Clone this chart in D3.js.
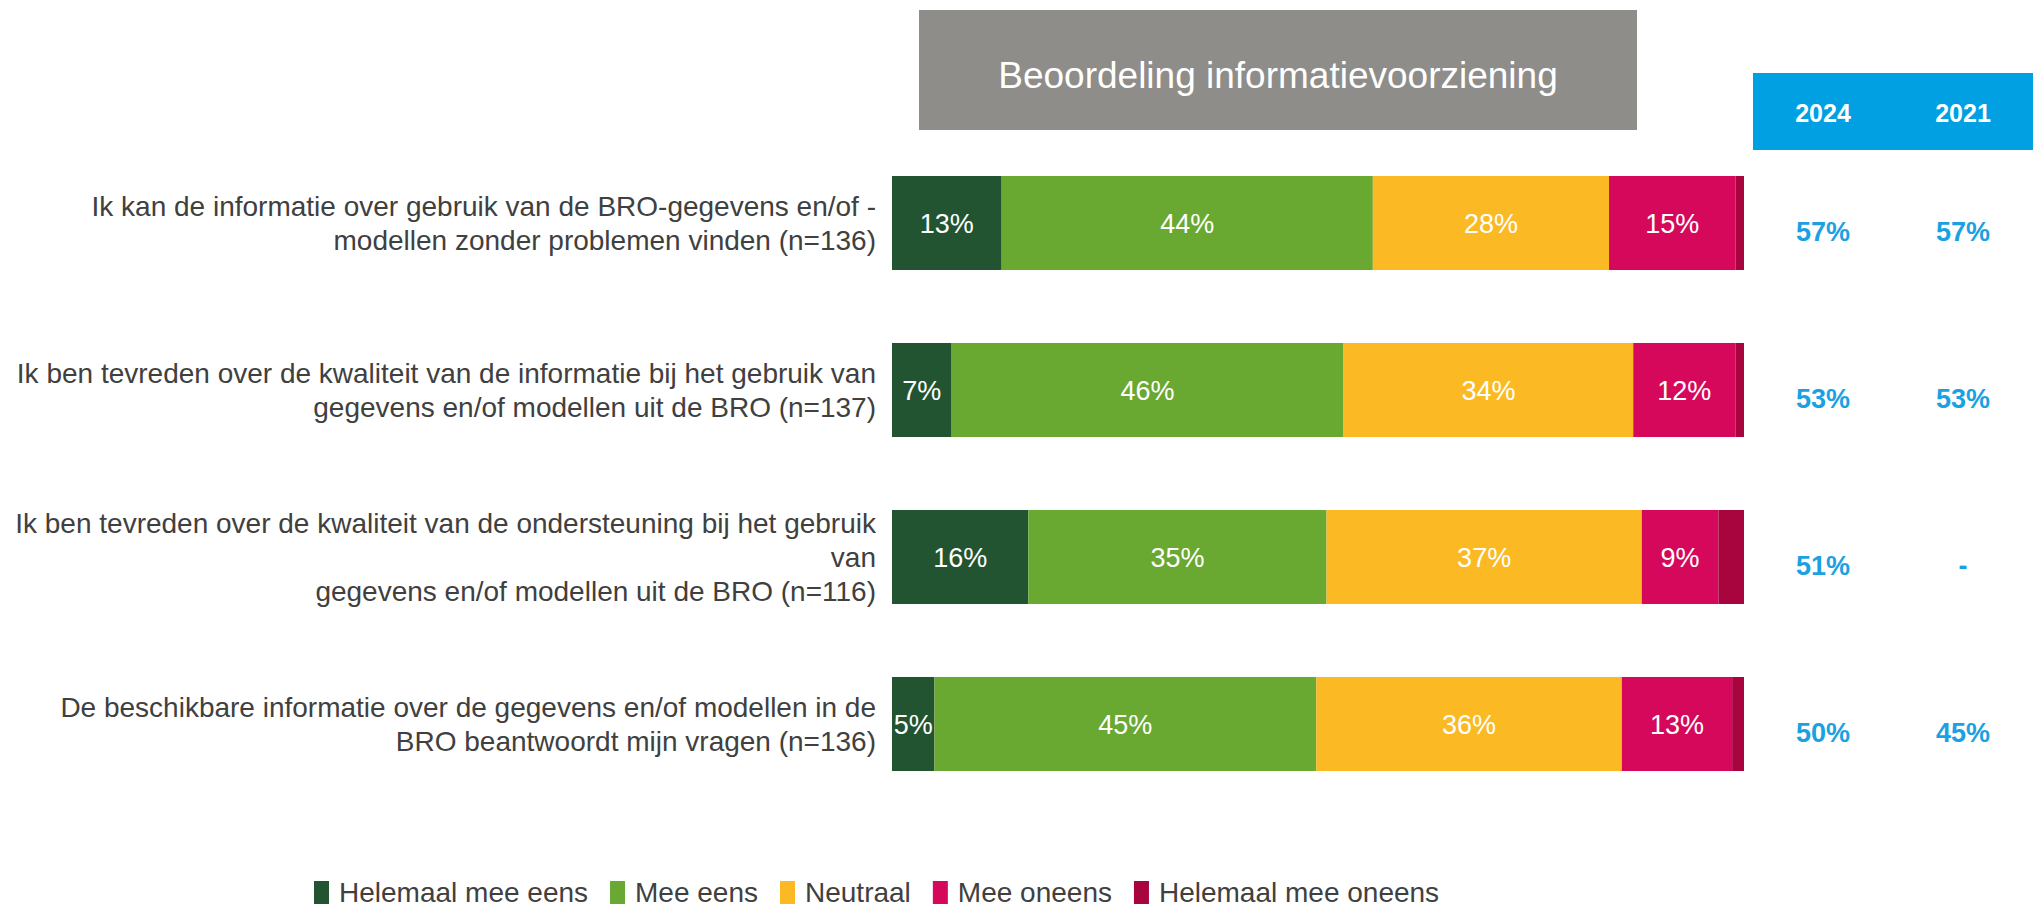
<!DOCTYPE html>
<html lang="nl">

<head>
    <script src="https://d3js.org/d3.v7.min.js"></script>
    <style>
        body {
            margin: 0;
            background: #fff;
            font-family: "Liberation Sans", Arial, sans-serif;
        }
    </style>
</head>

<body>
    <div id="chart"></div>
    <script>
        // data
        var categories = [
            ["Ik kan de informatie over gebruik van de BRO-gegevens en/of -", "modellen zonder problemen vinden (n=136)"],
            ["Ik ben tevreden over de kwaliteit van de informatie bij het gebruik van", "gegevens en/of modellen uit de BRO (n=137)"],
            ["Ik ben tevreden over de kwaliteit van de ondersteuning bij het gebruik", "van", "gegevens en/of modellen uit de BRO (n=116)"],
            ["De beschikbare informatie over de gegevens en/of modellen in de", "BRO beantwoordt mijn vragen (n=136)"]
        ];
        var answers = ["Helemaal mee eens", "Mee eens", "Neutraal", "Mee oneens", "Helemaal mee oneens"];
        var helemaalEens = [13, 7, 16, 5];
        var meeEens = [44, 46, 35, 45];
        var neutraal = [28, 34, 37, 36];
        var meeOneens = [15, 12, 9, 13];
        var helemaalOneens = [1, 1, 3, 1.4];
        var years = ["2024", "2021"];
        var eens2024 = [57, 53, 51, 50];
        var eens2021 = [57, 53, null, 45];
        var colors = ["#235431", "#69A831", "#FBBA24", "#D6085C", "#A8053F"];

        var W = 2033, H = 908;
        var svg = d3.select("#chart").append("svg")
            .attr("width", W)
            .attr("height", H);

        // build rows for the stack
        var series = [helemaalEens, meeEens, neutraal, meeOneens, helemaalOneens];
        var rows = categories.map(function(c, i) {
            var r = { id: i };
            answers.forEach(function(a, k) { r[a] = series[k][i]; });
            return r;
        });
        var stacked = d3.stack().keys(answers).offset(d3.stackOffsetExpand)(rows);

        var x = d3.scaleLinear().domain([0, 1]).range([892, 1744]);
        var y = d3.scaleBand()
            .domain(rows.map(function(d) { return d.id; }))
            .range([139.5, 807.5])
            .paddingInner(0.437)
            .paddingOuter(0.2185);
        var color = d3.scaleOrdinal().domain(answers).range(colors);

        // title box
        svg.append("rect")
            .attr("x", 919).attr("y", 10)
            .attr("width", 718).attr("height", 120)
            .attr("fill", "#8E8D8A");
        svg.append("text")
            .attr("x", 1278).attr("y", 88)
            .attr("text-anchor", "middle")
            .attr("fill", "#fff")
            .style("font-size", "37px")
            .text("Beoordeling informatievoorziening");

        // stacked bars
        var layer = svg.append("g").selectAll("g")
            .data(stacked)
            .enter().append("g")
            .attr("fill", function(d) { return color(d.key); });

        layer.selectAll("rect")
            .data(function(d) { return d; })
            .enter().append("rect")
            .attr("x", function(d) { return x(d[0]); })
            .attr("y", function(d) { return y(d.data.id); })
            .attr("width", function(d) { return x(d[1]) - x(d[0]); })
            .attr("height", y.bandwidth());

        // percentage labels (last answer has none)
        layer.filter(function(d) { return d.key != answers[4]; })
            .selectAll("text")
            .data(function(d) { return d.map(function(p) { return { p: p, key: d.key }; }); })
            .enter().append("text")
            .attr("x", function(d) { return (x(d.p[0]) + x(d.p[1])) / 2; })
            .attr("y", function(d) { return y(d.p.data.id) + y.bandwidth() / 2 + 10; })
            .attr("text-anchor", "middle")
            .attr("fill", "#fff")
            .style("font-size", "27px")
            .text(function(d) { return Math.round(d.p.data[d.key]) + "%"; });

        // category labels
        var lineH = 34;
        var cat = svg.append("g").selectAll("text")
            .data(rows)
            .enter().append("text")
            .attr("text-anchor", "end")
            .attr("fill", "#404040")
            .style("font-size", "28px");
        cat.each(function(d) {
            var lines = categories[d.id];
            var cy = y(d.id) + y.bandwidth() / 2;
            var y0 = cy - (lines.length - 1) * lineH / 2 + 10;
            d3.select(this).selectAll("tspan")
                .data(lines)
                .enter().append("tspan")
                .attr("x", 876)
                .attr("y", function(l, i) { return y0 + i * lineH; })
                .text(function(l) { return l; });
        });

        // year columns
        var xYear = d3.scaleBand().domain(years).range([1753, 2033]);
        svg.append("rect")
            .attr("x", 1753).attr("y", 73)
            .attr("width", 280).attr("height", 77)
            .attr("fill", "#00A0E2");
        svg.append("g").selectAll("text")
            .data(years)
            .enter().append("text")
            .attr("x", function(d) { return xYear(d) + xYear.bandwidth() / 2; })
            .attr("y", 122)
            .attr("text-anchor", "middle")
            .attr("fill", "#fff")
            .style("font-size", "25px")
            .style("font-weight", "bold")
            .text(function(d) { return d; });

        var yearVals = [eens2024, eens2021];
        years.forEach(function(yr, k) {
            svg.append("g").selectAll("text")
                .data(rows)
                .enter().append("text")
                .attr("x", xYear(yr) + xYear.bandwidth() / 2)
                .attr("y", function(d) { return y(d.id) + y.bandwidth() / 2 + 18; })
                .attr("text-anchor", "middle")
                .attr("fill", "#1BA1E2")
                .style("font-size", "27px")
                .style("font-weight", "bold")
                .text(function(d) {
                    var v = yearVals[k][d.id];
                    return v == null ? "-" : v + "%";
                });
        });

        // legend
        var legend = svg.append("g").attr("transform", "translate(314,0)");
        var lx = 0;
        answers.forEach(function(a) {
            var g = legend.append("g").attr("transform", "translate(" + lx + ",0)");
            g.append("rect")
                .attr("x", 0).attr("y", 881)
                .attr("width", 15).attr("height", 23)
                .attr("fill", color(a));
            var t = g.append("text")
                .attr("x", 25).attr("y", 902)
                .attr("fill", "#404040")
                .style("font-size", "28px")
                .text(a);
            lx += 25 + t.node().getComputedTextLength() + 22;
        });
    </script>
</body>

</html>
